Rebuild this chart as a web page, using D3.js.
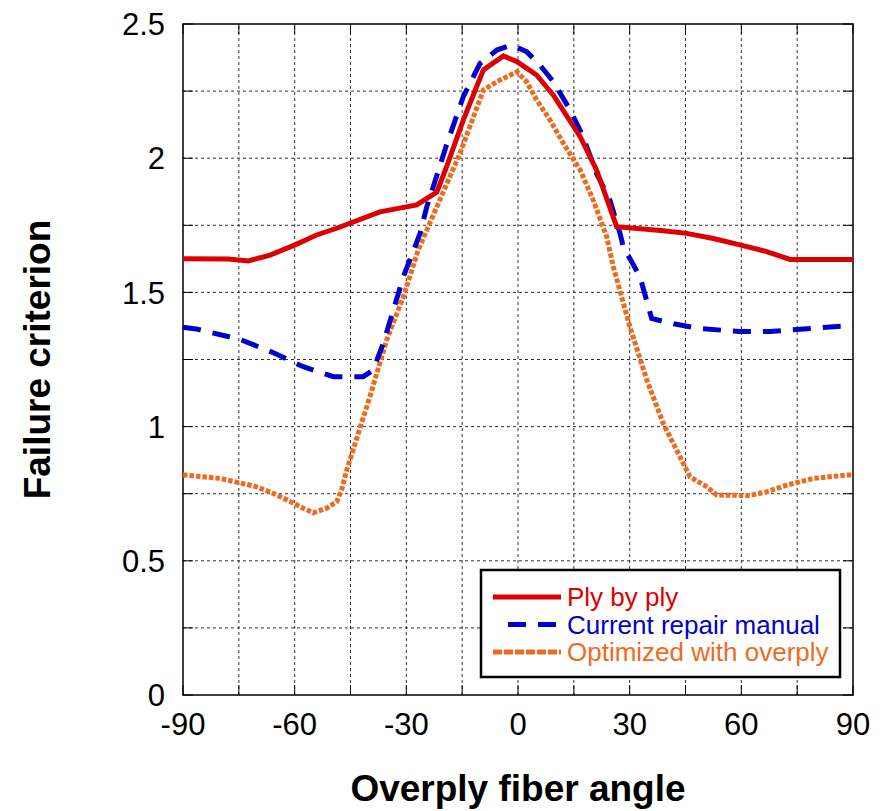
<!DOCTYPE html>
<html>
<head>
<meta charset="utf-8">
<script src="https://cdn.jsdelivr.net/npm/d3@7"></script>
<style>
  body { margin: 0; background: #fff; }
  text { font-family: "Liberation Sans", Arial, sans-serif; }
</style>
</head>
<body>
<script>
// Overply fiber angle (deg) vs failure criterion.
const plyAngle = [-90, -77.8, -72.5, -66.6, -59.9, -54.1, -48.7, -37.1, -27.2, -21.8, -19.2, -14.7, -9.3, -3.9, -0.3, 5, 9.5, 16.7, 21.1, 26.5, 39, 45.3, 52.5, 59.6, 66.8, 73.1, 90];
const plyValue = [1.625, 1.624, 1.617, 1.639, 1.677, 1.714, 1.739, 1.80, 1.826, 1.874, 1.968, 2.142, 2.329, 2.381, 2.36, 2.31, 2.235, 2.08, 1.956, 1.745, 1.730, 1.720, 1.701, 1.677, 1.652, 1.623, 1.623];

const manualAngle = [-90, -86.5, -74.7, -65.7, -57.7, -49.6, -41.6, -38.9, -36.2, -30.8, -26.3, -24.5, -19.2, -14.7, -10.2, -5.7, -1.7, 2.3, 5.9, 9.5, 14, 17.5, 21.1, 24.7, 27.4, 28.3, 32.8, 35.9, 40.4, 48.4, 59.6, 67.7, 74.9, 88.8, 90];
const manualValue = [1.37, 1.364, 1.325, 1.275, 1.223, 1.186, 1.186, 1.211, 1.31, 1.558, 1.72, 1.819, 2.049, 2.229, 2.353, 2.403, 2.422, 2.397, 2.347, 2.285, 2.18, 2.08, 1.943, 1.844, 1.72, 1.67, 1.557, 1.403, 1.387, 1.366, 1.354, 1.354, 1.362, 1.376, 1.377];

const overAngle = [-90, -80, -71.1, -66.6, -62.1, -57.7, -55, -51.4, -48.7, -47.4, -46, -39.8, -35.3, -30.8, -26.8, -21.8, -15.6, -9.3, -5.7, -0.3, 2.3, 5, 8.6, 12.2, 16.7, 20.2, 23.8, 25.6, 30.1, 34.6, 39, 43.5, 46.2, 50.7, 53.4, 62.3, 66.8, 72.2, 79.4, 88.8, 90];
const overValue = [0.82, 0.807, 0.779, 0.757, 0.727, 0.696, 0.679, 0.696, 0.72, 0.764, 0.838, 1.111, 1.322, 1.484, 1.658, 1.819, 2.018, 2.254, 2.285, 2.322, 2.285, 2.217, 2.142, 2.055, 1.956, 1.844, 1.708, 1.596, 1.37, 1.174, 1.012, 0.888, 0.813, 0.776, 0.745, 0.743, 0.757, 0.782, 0.807, 0.82, 0.82];

const seriesNames = ["Ply by ply", "Current repair manual", "Optimized with overply"];
const xTicks = [-90, -60, -30, 0, 30, 60, 90];
const yTicks = [0, 0.5, 1, 1.5, 2, 2.5];
const xGrid = d3.range(-90, 91, 15);
const yGrid = d3.range(0, 2.51, 0.25);

const width = 887, height = 811;
const margin = {top: 24, right: 34, bottom: 116, left: 183};

const x = d3.scaleLinear([-90, 90], [margin.left, width - margin.right]);
const y = d3.scaleLinear([0, 2.5], [height - margin.bottom, margin.top]);

const svg = d3.select("body").append("svg")
    .attr("width", width)
    .attr("height", height);

// grid
svg.append("g")
  .selectAll("line")
  .data(xGrid.slice(1, -1))
  .join("line")
    .attr("x1", d => x(d)).attr("x2", d => x(d))
    .attr("y1", y(0)).attr("y2", y(2.5))
    .attr("stroke", "#333")
    .attr("stroke-width", 1)
    .attr("stroke-dasharray", "3,3");

svg.append("g")
  .selectAll("line")
  .data(yGrid.slice(1, -1))
  .join("line")
    .attr("x1", x(-90)).attr("x2", x(90))
    .attr("y1", d => y(d)).attr("y2", d => y(d))
    .attr("stroke", "#333")
    .attr("stroke-width", 1)
    .attr("stroke-dasharray", "3,3");

// inward ticks on all four sides
const tickLen = 10;
const ticks = svg.append("g").attr("stroke", "#000").attr("stroke-width", 1);
xGrid.forEach(d => {
  ticks.append("line").attr("x1", x(d)).attr("x2", x(d)).attr("y1", y(0)).attr("y2", y(0) - tickLen);
  ticks.append("line").attr("x1", x(d)).attr("x2", x(d)).attr("y1", y(2.5)).attr("y2", y(2.5) + tickLen);
});
yGrid.forEach(d => {
  ticks.append("line").attr("x1", x(-90)).attr("x2", x(-90) + tickLen).attr("y1", y(d)).attr("y2", y(d));
  ticks.append("line").attr("x1", x(90)).attr("x2", x(90) - tickLen).attr("y1", y(d)).attr("y2", y(d));
});

// frame
svg.append("rect")
    .attr("x", x(-90)).attr("y", y(2.5))
    .attr("width", x(90) - x(-90)).attr("height", y(0) - y(2.5))
    .attr("fill", "none")
    .attr("stroke", "#000")
    .attr("stroke-width", 1.5);

// tick labels
svg.append("g")
  .selectAll("text")
  .data(xTicks)
  .join("text")
    .attr("x", d => x(d))
    .attr("y", 735)
    .attr("text-anchor", "middle")
    .attr("font-size", 31)
    .text(d => d);

svg.append("g")
  .selectAll("text")
  .data(yTicks)
  .join("text")
    .attr("x", 165)
    .attr("y", d => y(d))
    .attr("dy", "0.36em")
    .attr("text-anchor", "end")
    .attr("font-size", 31)
    .text(d => d);

// axis titles
svg.append("text")
    .attr("x", (x(-90) + x(90)) / 2)
    .attr("y", 801)
    .attr("text-anchor", "middle")
    .attr("font-size", 37)
    .attr("font-weight", "bold")
    .text("Overply fiber angle");

svg.append("text")
    .attr("transform", `translate(50,${(y(0) + y(2.5)) / 2}) rotate(-90)`)
    .attr("text-anchor", "middle")
    .attr("font-size", 37)
    .attr("font-weight", "bold")
    .text("Failure criterion");

// series
const styles = [
  {color: "#dd0000", dash: null, legendDash: null},
  {color: "#0000cc", dash: "18,12", legendDash: "18,12"},
  {color: "#f06a1e", dash: "4.5,2", legendDash: "9,2"}
];
const series = [
  d3.zip(plyAngle, plyValue),
  d3.zip(manualAngle, manualValue),
  d3.zip(overAngle, overValue)
];

const line = d3.line()
    .x(d => x(d[0]))
    .y(d => y(d[1]));

// draw orange first, then blue, red on top
[2, 1, 0].forEach(i => {
  svg.append("path")
      .datum(series[i])
      .attr("d", line)
      .attr("fill", "none")
      .attr("stroke", styles[i].color)
      .attr("stroke-width", 5)
      .attr("stroke-dasharray", styles[i].dash);
});

// legend
const legend = svg.append("g");
legend.append("rect")
    .attr("x", 481).attr("y", 570)
    .attr("width", 359).attr("height", 107)
    .attr("fill", "#fff")
    .attr("stroke", "#000")
    .attr("stroke-width", 2.5);

const legendStart = [493, 508, 493];
seriesNames.forEach((name, i) => {
  const cy = 597 + i * 27.5;
  legend.append("line")
      .attr("x1", legendStart[i]).attr("x2", 561)
      .attr("y1", cy).attr("y2", cy)
      .attr("stroke", styles[i].color)
      .attr("stroke-width", 5)
      .attr("stroke-dasharray", styles[i].legendDash);
  legend.append("text")
      .attr("x", 567)
      .attr("y", cy)
      .attr("dy", "0.36em")
      .attr("font-size", 26)
      .attr("fill", styles[i].color)
      .text(name);
});
</script>
</body>
</html>
